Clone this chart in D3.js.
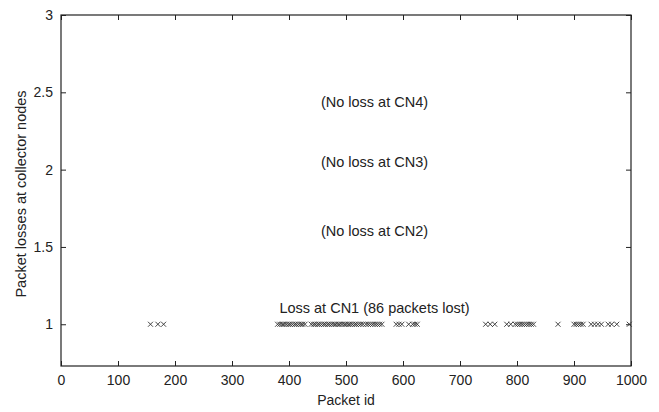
<html>
<head>
<script src="https://d3js.org/d3.v7.min.js"></script>
<style>
  body { margin: 0; background: #fff; }
  text { font-family: "Liberation Sans", Arial, sans-serif; fill: #222; }
  .axis .domain { stroke: none; }
  .axis line { stroke: #222; }
</style>
</head>
<body>
<svg id="chart" width="659" height="412"></svg>
<script>
// packet ids lost at CN1 (86 of them)
const lostCN1 = [
  157, 170, 180,
  380, 384, 388, 391, 395, 399, 402, 406, 410, 413, 417, 421, 424, 428,
  439, 443, 446, 450, 453, 457, 461, 464, 468, 471, 475, 479, 482, 486, 489, 493,
  497, 500, 504, 507, 511, 515, 518, 522, 526, 530,
  535, 539, 543, 547, 551, 555, 559, 563,
  588, 593, 598,
  610, 617, 621, 625,
  745, 753, 761,
  782, 789, 797, 801, 805, 809, 813, 817, 821, 825, 829,
  872,
  900, 904, 908, 912, 916,
  930, 936, 942, 948,
  960, 966, 975,
  997
];
const lossLevel = 1;
const xTicks = [0, 100, 200, 300, 400, 500, 600, 700, 800, 900, 1000];
const yTicks = [1, 1.5, 2, 2.5, 3];
const notes = ['(No loss at CN4)', '(No loss at CN3)', '(No loss at CN2)', 'Loss at CN1 (86 packets lost)'];
const noteY = [2.44, 2.05, 1.605, 1.105];
const noteX = 550;

const svg = d3.select('svg#chart');
const margins = {top: 15, right: 28, bottom: 46, left: 61};
const width = +svg.attr('width');
const height = +svg.attr('height');
const chartWidth = width - margins.left - margins.right;
const chartHeight = height - margins.top - margins.bottom;

const x = d3.scaleLinear().domain([0, 1000]).range([0, chartWidth]);
const y = d3.scaleLinear().domain([0.73, 3]).range([chartHeight, 0]);

const chart = svg.append('g')
  .attr('transform', `translate(${margins.left},${margins.top})`);

// inward ticks on all four sides, matlab style
chart.append('g').attr('class', 'axis')
  .attr('transform', `translate(0,${chartHeight})`)
  .call(d3.axisBottom(x).tickValues(xTicks).tickSize(-5).tickPadding(9).tickFormat(d3.format('d')))
  .selectAll('text').style('font-size', '14px');
chart.append('g').attr('class', 'axis')
  .call(d3.axisTop(x).tickValues(xTicks).tickSize(-5).tickFormat(''));
chart.append('g').attr('class', 'axis')
  .call(d3.axisLeft(y).tickValues(yTicks).tickSize(-5).tickPadding(8).tickFormat(d3.format('')))
  .selectAll('text').style('font-size', '14px');
chart.append('g').attr('class', 'axis')
  .attr('transform', `translate(${chartWidth},0)`)
  .call(d3.axisRight(y).tickValues(yTicks).tickSize(-5).tickFormat(''));

chart.append('rect')
  .attr('width', chartWidth)
  .attr('height', chartHeight)
  .attr('fill', 'none')
  .attr('stroke', '#222')
  .attr('stroke-width', 1.2);

// x markers
const s = 2.5;
chart.selectAll('path.mark')
  .data(lostCN1)
  .enter().append('path')
  .attr('class', 'mark')
  .attr('d', d => {
    const cx = x(d), cy = y(lossLevel);
    return `M${cx - s},${cy - s}L${cx + s},${cy + s}M${cx - s},${cy + s}L${cx + s},${cy - s}`;
  })
  .attr('stroke', '#333')
  .attr('stroke-width', 0.9)
  .attr('fill', 'none');

chart.selectAll('text.note')
  .data(notes)
  .enter().append('text')
  .attr('class', 'note')
  .attr('x', x(noteX))
  .attr('y', (d, i) => y(noteY[i]))
  .attr('dy', '0.35em')
  .attr('text-anchor', 'middle')
  .style('font-size', '14.5px')
  .text(d => d);

svg.append('text')
  .attr('x', margins.left + chartWidth / 2)
  .attr('y', 405)
  .attr('text-anchor', 'middle')
  .style('font-size', '14px')
  .text('Packet id');

svg.append('text')
  .attr('transform', `translate(26,194) rotate(-90)`)
  .attr('text-anchor', 'middle')
  .style('font-size', '14.5px')
  .text('Packet losses at collector nodes');
</script>
</body>
</html>
